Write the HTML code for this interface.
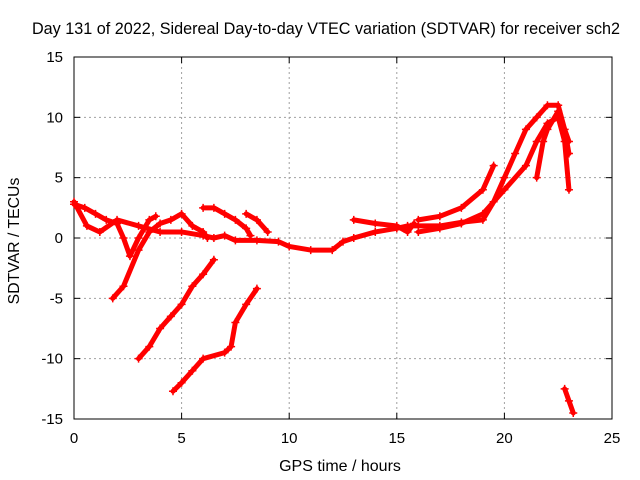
<!DOCTYPE html>
<html><head><meta charset="utf-8"><style>
body{margin:0;background:#fff;}
svg{display:block;font-family:"Liberation Sans",sans-serif;}
</style></head><body>
<svg id="chart" width="640" height="480" viewBox="0 0 640 480">
<text x="326" y="34" font-size="16.2" text-anchor="middle">Day 131 of 2022, Sidereal Day-to-day VTEC variation (SDTVAR) for receiver sch2</text>
<g id="grid"></g>
<g id="axes"></g>
<g id="series"></g>
<text x="340" y="471" font-size="16" text-anchor="middle">GPS time / hours</text>
<text transform="translate(19,241) rotate(-90)" font-size="15.8" text-anchor="middle">SDTVAR / TECUs</text>
</svg>
<script>
const xTicks=[0,5,10,15,20,25];
const yTicks=[-15,-10,-5,0,5,10,15];
const track1=[[0,2.8],[0.5,2.5],[1,2],[1.5,1.5],[2,1.2],[2.3,0],[2.6,-1.5],[3,0],[3.5,1.5],[3.8,1.8]];
const track2=[[0,3],[0.6,1],[1.2,0.5],[2,1.5],[3,1],[4,0.5],[5,0.5],[6,0.2],[6.5,0],[7,0.2],[7.5,-0.2],[8.5,-0.2],[9.5,-0.3],[10,-0.7],[11,-1],[12,-1],[12.5,-0.3],[13,0],[14,0.5],[15,0.8],[15.5,1],[16,1],[17,1],[18,1.3],[19,1.5],[19.5,3],[20,5],[20.5,7],[21,9],[21.5,10],[22,11],[22.5,11],[22.8,9],[23,7]];
const track3=[[1.8,-5],[2.3,-4],[3,-1],[3.5,0.5],[4,1.2],[4.5,1.5],[5,2],[5.5,1],[6,0.5],[6.2,0]];
const track4=[[3,-10],[3.5,-9],[4,-7.5],[4.5,-6.5],[5,-5.5],[5.5,-4],[6,-3],[6.5,-1.8]];
const track5=[[4.6,-12.7],[5,-12],[5.5,-11],[6,-10],[7,-9.5],[7.3,-9],[7.5,-7],[8,-5.5],[8.5,-4.2]];
const track6=[[6,2.5],[6.5,2.5],[7,2],[7.5,1.5],[8,0.8],[8.2,0.2]];
const track7=[[8,2],[8.5,1.5],[9,0.5]];
const track8=[[13,1.5],[14,1.2],[15,1],[15.5,0.5],[15.8,1.2]];
const track9=[[16,1.5],[17,1.8],[18,2.5],[19,4],[19.5,6]];
const track10=[[16,0.5],[17,0.8],[18,1.2],[19,2],[20,4],[21,6],[21.5,8],[22,9.5],[22.5,10],[22.8,8],[23,4]];
const track11=[[22.8,-12.5],[23,-13.5],[23.2,-14.5]];
const track12=[[21.5,5],[21.8,8],[22,9],[22.5,10.5],[23,8]];
const tracks=[track1,track2,track3,track4,track5,track6,track7,track8,track9,track10,track11,track12];
const X0=74,X1=612,Y0=419,Y1=57;
const xs=v=>X0+(v-0)/25*(X1-X0);
const ys=v=>Y0-(v+15)/30*(Y0-Y1);
const NS="http://www.w3.org/2000/svg";
function mk(t,a,p){const e=document.createElementNS(NS,t);for(const k in a)e.setAttribute(k,a[k]);p.appendChild(e);return e;}
const grid=document.getElementById('grid'),axes=document.getElementById('axes'),ser=document.getElementById('series');
xTicks.forEach(v=>{
 if(v>0&&v<25){const l=mk('line',{x1:xs(v),x2:xs(v),y1:Y1,y2:Y0,stroke:'#a0a0a0','stroke-dasharray':'2,3','stroke-width':1},grid);
 }
 const t=mk('text',{x:xs(v),y:Y0+24,'font-size':15,'text-anchor':'middle'},axes);t.textContent=v;
 
 mk('line',{x1:xs(v),x2:xs(v),y1:Y0,y2:Y0-6,stroke:'#000'},axes);mk('line',{x1:xs(v),x2:xs(v),y1:Y1,y2:Y1+6,stroke:'#000'},axes);
});
yTicks.forEach(v=>{
 if(v>-15&&v<15){const l=mk('line',{x1:X0,x2:X1,y1:ys(v),y2:ys(v),stroke:'#a0a0a0','stroke-dasharray':'2,3','stroke-width':1},grid);
 }
 const t=mk('text',{x:X0-11,y:ys(v)+5,'font-size':15,'text-anchor':'end'},axes);t.textContent=v;
 
 mk('line',{x1:X0,x2:X0+6,y1:ys(v),y2:ys(v),stroke:'#000'},axes);mk('line',{x1:X1,x2:X1-6,y1:ys(v),y2:ys(v),stroke:'#000'},axes);
});
const fr=mk('rect',{x:X0,y:Y1,width:X1-X0,height:Y0-Y1,fill:'none',stroke:'#000'},axes);

tracks.forEach(tr=>{
 const pl=mk('polyline',{points:tr.map(p=>xs(p[0])+','+ys(p[1])).join(' '),fill:'none',stroke:'#f00','stroke-width':5,'stroke-linejoin':'round','stroke-linecap':'round'},ser);
 
 tr.forEach(p=>{const x=xs(p[0]),y=ys(p[1]);
  const m=mk('path',{d:`M${x-4},${y}H${x+4}M${x},${y-4}V${y+4}`,stroke:'#f00','stroke-width':1.5},ser);
  });
});
</script>
</body></html>
